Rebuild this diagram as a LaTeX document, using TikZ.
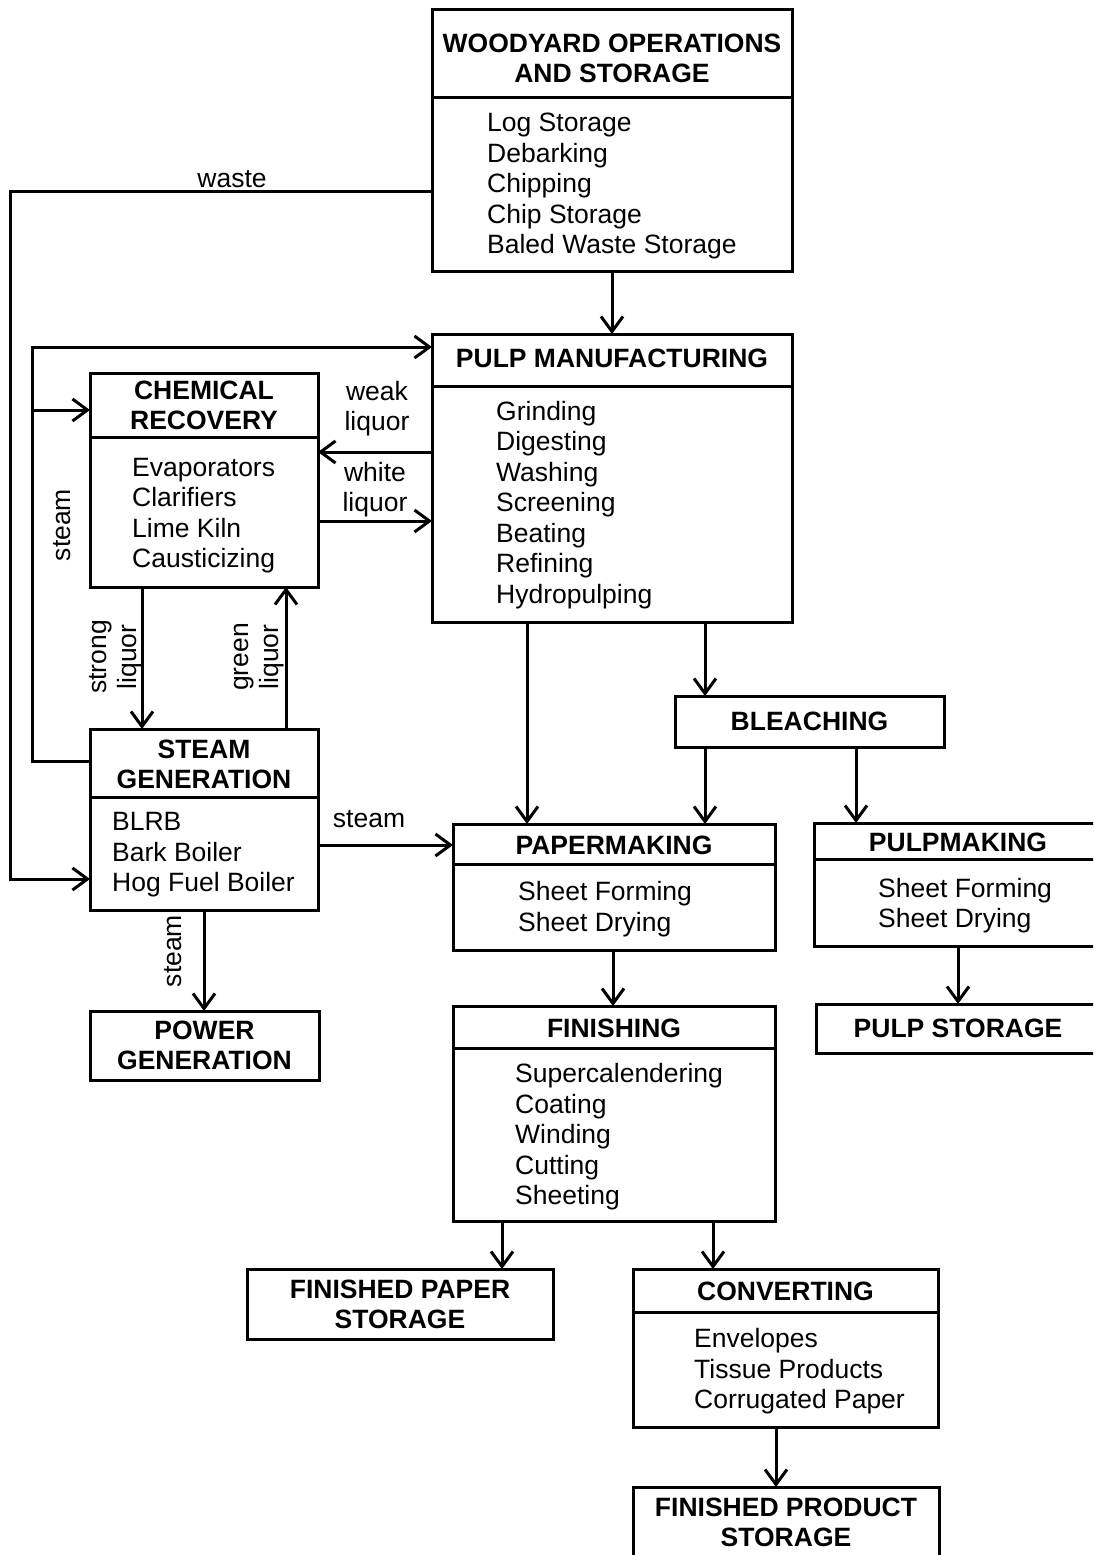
\documentclass[tikz,border=0pt]{standalone}
\usepackage{fontspec}
\setmainfont{Liberation Sans}
\usetikzlibrary{arrows.meta}
\begin{document}
\begin{tikzpicture}[x=1pt,y=-1pt,
  box/.style={draw,line width=3pt,inner sep=0pt,outer sep=0pt},
  hd/.style={font=\fontsize{26.5}{30.5}\selectfont\bfseries,align=center,inner sep=0pt},
  it/.style={font=\fontsize{26.5}{30.5}\selectfont,align=left,inner sep=0pt,anchor=west},
  lab/.style={font=\fontsize{26.5}{30}\selectfont,align=center,inner sep=0pt},
  ln/.style={line width=3pt},
  arr/.style={line width=3pt,-{Straight Barb[length=15pt,width=22pt]}},
]
\useasboundingbox (0,0) rectangle (1093,1555);
\fill[white] (0,0) rectangle (1093,1555);
\clip (0,0) rectangle (1093,1555);

% boxes
\node[box,minimum width=360pt,minimum height=261pt] (wood) at (612,140.5) {};
\node[box,minimum width=360pt,minimum height=288pt] (pulp) at (612,478) {};
\node[box,minimum width=228pt,minimum height=214pt] (chem) at (204,480) {};
\node[box,minimum width=228pt,minimum height=181pt] (steam) at (204,819.5) {};
\node[box,minimum width=229pt,minimum height=69pt] (power) at (204.5,1045.5) {};
\node[box,minimum width=269pt,minimum height=51pt] (bleach) at (809.5,721.5) {};
\node[box,minimum width=322pt,minimum height=126pt] (paper) at (614,887) {};
\node[box,minimum width=289pt,minimum height=123pt] (pulpm) at (958.5,884.5) {};
\node[box,minimum width=285pt,minimum height=49pt] (pstor) at (958.5,1028.5) {};
\node[box,minimum width=322pt,minimum height=215pt] (finish) at (614,1113.5) {};
\node[box,minimum width=306pt,minimum height=70pt] (fpaper) at (400,1304) {};
\node[box,minimum width=305pt,minimum height=158pt] (conv) at (785.5,1348) {};
\node[box,minimum width=306pt,minimum height=83pt] (fprod) at (786,1528.5) {};

% dividers
\draw[ln] (wood.west |- 0,97) -- (wood.east |- 0,97);
\draw[ln] (pulp.west |- 0,386) -- (pulp.east |- 0,386);
\draw[ln] (chem.west |- 0,437) -- (chem.east |- 0,437);
\draw[ln] (steam.west |- 0,797) -- (steam.east |- 0,797);
\draw[ln] (paper.west |- 0,864) -- (paper.east |- 0,864);
\draw[ln] (pulpm.west |- 0,859) -- (pulpm.east |- 0,859);
\draw[ln] (finish.west |- 0,1048) -- (finish.east |- 0,1048);
\draw[ln] (conv.west |- 0,1312) -- (conv.east |- 0,1312);

% headers
\node[hd] (woodh) at (612,58.5) {WOODYARD OPERATIONS\\AND STORAGE};
\node[hd] (pulph) at (612,358.5) {PULP MANUFACTURING};
\node[hd] (chemh) at (204,405.5) {CHEMICAL\\RECOVERY};
\node[hd] (steamh) at (204,764.5) {STEAM\\GENERATION};
\node[hd] (powerh) at (204.5,1045.5) {POWER\\GENERATION};
\node[hd] (bleachh) at (809.5,721.5) {BLEACHING};
\node[hd] (paperh) at (614,845.5) {PAPERMAKING};
\node[hd] (pulpmh) at (958,842.5) {PULPMAKING};
\node[hd] (pstorh) at (958,1028.5) {PULP STORAGE};
\node[hd] (finishh) at (614,1028.5) {FINISHING};
\node[hd] (fpaperh) at (400,1304.5) {FINISHED PAPER\\STORAGE};
\node[hd] (convh) at (785.5,1291.5) {CONVERTING};
\node[hd] (fprodh) at (786,1522.5) {FINISHED PRODUCT\\STORAGE};

% items
\node[it] (woodi) at (487,186) {Log Storage\\Debarking\\Chipping\\Chip Storage\\Baled Waste Storage};
\node[it] (pulpi) at (496,505) {Grinding\\Digesting\\Washing\\Screening\\Beating\\Refining\\Hydropulping};
\node[it] (chemi) at (132,515.5) {Evaporators\\Clarifiers\\Lime Kiln\\Causticizing};
\node[it] (steami) at (112,855) {BLRB\\Bark Boiler\\Hog Fuel Boiler};
\node[it] (paperi) at (518,909) {Sheet Forming\\Sheet Drying};
\node[it] (pulpmi) at (878,905.5) {Sheet Forming\\Sheet Drying};
\node[it] (finishi) at (515,1137) {Supercalendering\\Coating\\Winding\\Cutting\\Sheeting};
\node[it] (convi) at (694,1371.5) {Envelopes\\Tissue Products\\Corrugated Paper};

% connectors
\draw[arr] (wood.west |- 0,191) -- (10,191) -- (10,879) -- (steam.west |- 0,879);
\draw[arr] (steam.west |- 0,761) -- (32,761) -- (32,347) -- (pulp.west |- 0,347);
\draw[arr] (32,410) -- (chem.west |- 0,410);
\draw[arr] (pulp.west |- 0,452) -- (chem.east |- 0,452);
\draw[arr] (chem.east |- 0,521) -- (pulp.west |- 0,521);
\draw[arr] (chem.south -| 142,0) -- (steam.north -| 142,0);
\draw[arr] (steam.north -| 286,0) -- (chem.south -| 286,0);
\draw[arr] (steam.east |- 0,845) -- (paper.west |- 0,845);
\draw[arr] (steam.south -| 204,0) -- (power.north -| 204,0);
\draw[arr] (wood.south -| 612,0) -- (pulp.north -| 612,0);
\draw[arr] (pulp.south -| 527,0) -- (paper.north -| 527,0);
\draw[arr] (pulp.south -| 705,0) -- (bleach.north -| 705,0);
\draw[arr] (bleach.south -| 705,0) -- (paper.north -| 705,0);
\draw[arr] (bleach.south -| 856,0) -- (pulpm.north -| 856,0);
\draw[arr] (paper.south -| 613,0) -- (finish.north -| 613,0);
\draw[arr] (pulpm.south -| 958,0) -- (pstor.north -| 958,0);
\draw[arr] (finish.south -| 502,0) -- (fpaper.north -| 502,0);
\draw[arr] (finish.south -| 713,0) -- (conv.north -| 713,0);
\draw[arr] (conv.south -| 776,0) -- (fprod.north -| 776,0);

% labels
\node[lab] (lwaste) at (232,179) {waste};
\node[lab] (lweak) at (377,409) {weak\\liquor};
\node[lab] (lwhite) at (375,490) {white\\liquor};
\node[lab] (lsteam1) at (369,819) {steam};
\node[lab,rotate=90] (lsteam2) at (62,525) {steam};
\node[lab,rotate=90] (lstrong) at (116,657) {strong\\liquor};
\node[lab,rotate=90] (lgreen) at (259,657) {green\\liquor};
\node[lab,rotate=90] (lsteam3) at (173,951) {steam};
\end{tikzpicture}
\end{document}
